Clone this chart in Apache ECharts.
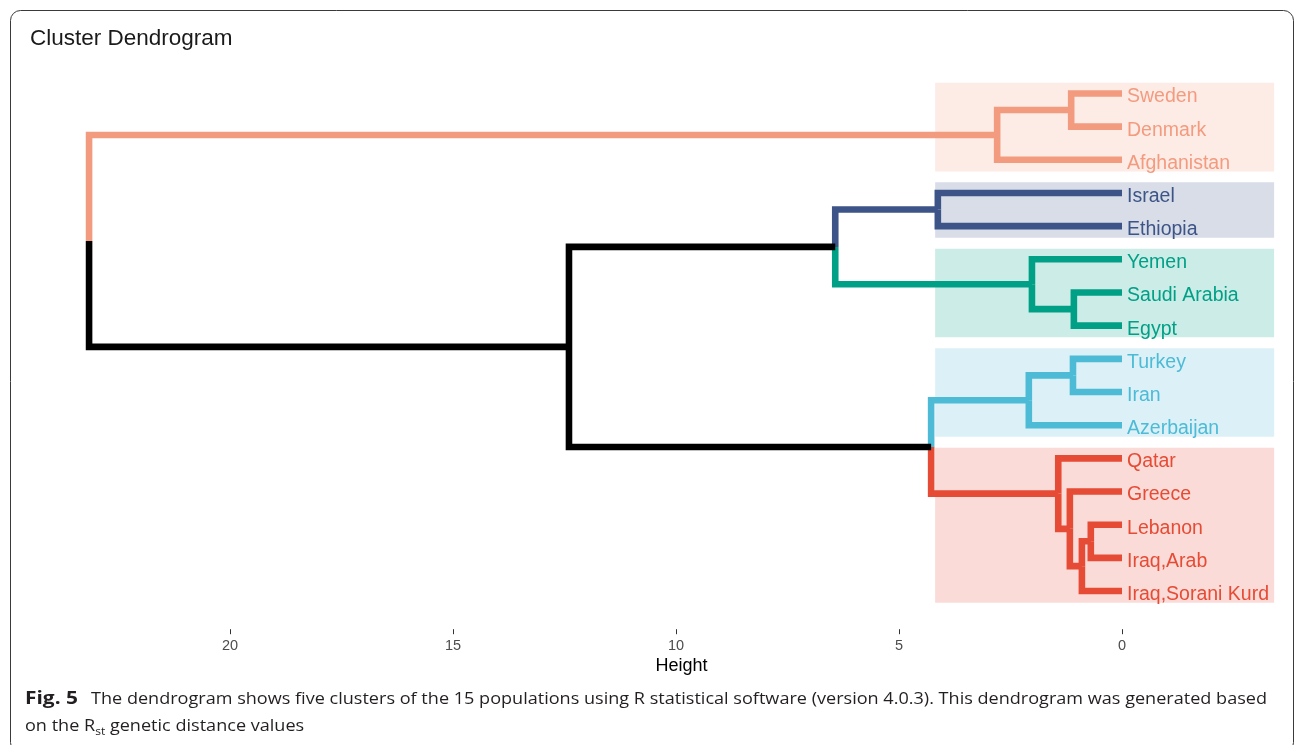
<!DOCTYPE html>
<html><head><meta charset="utf-8">
<script src="https://cdn.jsdelivr.net/npm/echarts@6/dist/echarts.min.js"></script>
<style>html,body{margin:0;padding:0;background:#fff}#c{width:1295px;height:745px}</style>
</head><body><div id="c"></div>
<script>
// ---- data ----
const leaves = ['Sweden','Denmark','Afghanistan','Israel','Ethiopia','Yemen','Saudi Arabia','Egypt',
  'Turkey','Iran','Azerbaijan','Qatar','Greece','Lebanon','Iraq,Arab','Iraq,Sorani Kurd'];
const leafCluster = [0,0,0,1,1,2,2,2,3,3,3,4,4,4,4,4];
const clusterColors = ['#F39B7F','#3C5488','#00A087','#4DBBD5','#E64B35'];
const clusterFills = ['rgba(243,155,127,0.2)','rgba(60,84,136,0.2)','rgba(0,160,135,0.2)','rgba(77,187,213,0.2)','rgba(230,75,53,0.2)'];
// hclust-style merge matrix: negative = leaf (1-based, display order), positive = earlier merge
const merges = [[-14,-15],[1,-16],[-7,-8],[-9,-10],[-1,-2],[-13,2],[-12,6],[-6,3],[4,-11],[5,-3],[-4,-5],[9,7],[11,8],[13,12],[10,14]];
const heights = [0.70,0.90,1.08,1.10,1.14,1.17,1.43,2.02,2.09,2.80,4.13,4.28,6.43,12.40,23.16];
const tickValues = [0,5,10,15,20];
const titleText = 'Cluster Dendrogram';
const axisTitle = 'Height';

// ---- build tree ----
const nodes = [];
function info(id){ if(id<0){const k=-id; return {y:k,h:0,cl:leafCluster[k-1],first:k,last:k};} return nodes[id-1]; }
merges.forEach((m,i)=>{
  const a=info(m[0]), b=info(m[1]);
  nodes.push({y:(a.y+b.y)/2, h:heights[i], cl:(a.cl===b.cl&&a.cl>=0)?a.cl:-1, kids:[a,b],
    first:Math.min(a.first,b.first), last:Math.max(a.last,b.last)});
});
const series = [];
// cluster background boxes
const clusterRanges = clusterColors.map((c,ci)=>{
  const idx = leafCluster.map((v,i)=>v===ci?i+1:null).filter(v=>v!==null);
  return [Math.min(...idx), Math.max(...idx), ci];
});
series.push({
  type:'custom', silent:true, z:1, animation:false,
  data: clusterRanges,
  renderItem:(params, api)=>{
    const f=api.value(0), l=api.value(1), ci=api.value(2);
    const p1=api.coord([4.19, f-0.32]), p2=api.coord([-3.41, l+0.35]);
    return {type:'rect', shape:{x:Math.min(p1[0],p2[0]), y:Math.min(p1[1],p2[1]),
      width:Math.abs(p2[0]-p1[0]), height:Math.abs(p2[1]-p1[1])}, style:{fill:clusterFills[ci]}};
  }
});
nodes.forEach(n=>{
  n.kids.forEach(k=>{
    series.push({type:'line', silent:true, z:3, animation:false, symbol:'none',
      data:[[n.h,n.y],[n.h,k.y],[k.h,k.y]],
      lineStyle:{width:6.6, color:k.cl>=0?clusterColors[k.cl]:'#000000', cap:'butt', join:'miter'}});
  });
});
series.push({type:'scatter', silent:true, z:4, animation:false, symbolSize:0, itemStyle:{opacity:1},
  data: leaves.map((nm,i)=>({value:[0,i+1], label:{color:clusterColors[leafCluster[i]]}})),
  label:{show:true, position:'right', distance:5, offset:[0,3.5], fontSize:19.5, fontFamily:'Liberation Sans', opacity:1,
    formatter:p=>leaves[p.dataIndex]}
});

// ---- caption layout (measure text) ----
const capFont = '16.5px "Open Sans"', capBold = 'bold 17px "Open Sans"', subFont = '11px "Open Sans"';
const cv = document.createElement('canvas').getContext('2d');
function mw(t,f){cv.font=f; return cv.measureText(t).width;}
const figLabel = 'Fig. 5';
const cap1 = 'The dendrogram shows five clusters of the 15 populations using R statistical software (version 4.0.3). This dendrogram was generated based';
const s = (1267-91)/mw(cap1,capFont);
const sFig = (78-25)/mw(figLabel,capBold);
const l2a = 'on the R', l2b = 'st', l2c = ' genetic distance values';
const wa = mw(l2a,capFont)*s, wb = mw(l2b,subFont)*s;
const capColor = '#231f20';
const y1 = 699, y2 = 726;

const chart = echarts.init(document.getElementById('c'), null, {renderer:'canvas'});
chart.setOption({
  animation:false,
  backgroundColor:'#fff',
  title:{text:titleText, left:25, top:22, textStyle:{fontSize:22.5, fontWeight:'normal', color:'#1a1a1a', fontFamily:'Liberation Sans'}},
  grid:{left:73.9, right:12.4, top:60.3, bottom:120.8},
  xAxis:{type:'value', inverse:true, min:-3.6, max:23.5, offset:5, position:'bottom',
    splitLine:{show:false}, axisLine:{show:false, onZero:false},
    axisTick:{show:true, length:5, customValues:tickValues, lineStyle:{color:'#333', width:1}},
    axisLabel:{show:true, customValues:tickValues, margin:9, fontSize:14.5, color:'#4d4d4d', fontFamily:'Liberation Sans'}},
  yAxis:{type:'value', inverse:true, min:0, max:17, show:false},
  graphic:[
    {type:'rect', z:0, silent:true, shape:{x:10.5,y:10.5,width:1283,height:742,r:10}, style:{fill:'none', stroke:'#3a3a3a', lineWidth:1}},
    {type:'text', silent:true, x:681.5, y:666, style:{text:axisTitle, font:'18px "Liberation Sans"', fill:'#000', align:'center', verticalAlign:'middle'}},
    {type:'text', silent:true, x:25, y:y1, scaleX:sFig, style:{text:figLabel, font:capBold, fill:capColor, verticalAlign:'middle'}},
    {type:'text', silent:true, x:91, y:y1, scaleX:s, style:{text:cap1, font:capFont, fill:capColor, verticalAlign:'middle'}},
    {type:'text', silent:true, x:25, y:y2, scaleX:s, style:{text:l2a, font:capFont, fill:capColor, verticalAlign:'middle'}},
    {type:'text', silent:true, x:25+wa, y:y2+6, scaleX:s, style:{text:l2b, font:subFont, fill:capColor, verticalAlign:'middle'}},
    {type:'text', silent:true, x:25+wa+wb, y:y2, scaleX:s, style:{text:l2c, font:capFont, fill:capColor, verticalAlign:'middle'}}
  ],
  series: series
});
</script></body></html>
